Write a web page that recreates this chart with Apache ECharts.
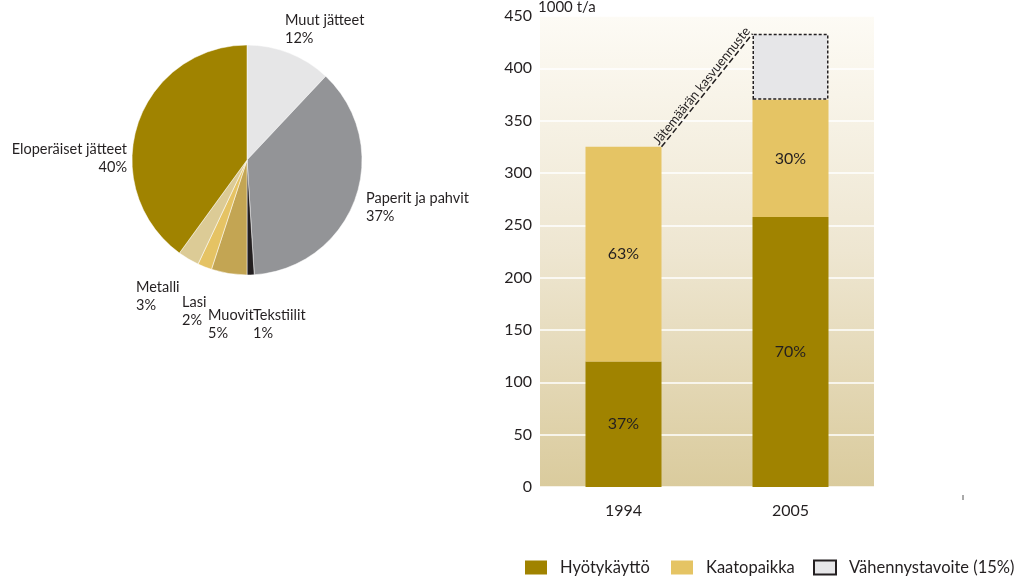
<!DOCTYPE html>
<html>
<head>
<meta charset="utf-8">
<script src="https://cdn.jsdelivr.net/npm/echarts@6/dist/echarts.min.js"></script>
<style>
html,body{margin:0;padding:0;background:#fff;}
#c{width:1031px;height:579px;}
</style>
</head>
<body>
<div id="c"></div>
<script>
// ---- data ----
const pieNames = ['Muut jätteet', 'Paperit ja pahvit', 'Tekstiilit', 'Muovit', 'Lasi', 'Metalli', 'Eloperäiset jätteet'];
const pieValues = [12, 37, 1, 5, 2, 3, 40];
const years = ['1994', '2005'];
const hyotyValues = [120, 258];
const kaatoValues = [205, 112];
const vahennysValues = ['-', 63];
const hyotyLabels = ['37%', '70%'];
const kaatoLabels = ['63%', '30%'];
const seriesNames = ['Hyötykäyttö', 'Kaatopaikka', 'Vähennystavoite (15%)'];
const yAxisTitle = '1000 t/a';
const annotationText = 'Jätemäärän kasvuennuste';

// ---- styles ----
const FONT = 'Lato';
const TXT = '#231f20';
const pieColors = ['#e6e6e7', '#939497', '#231f20', '#c3a553', '#e5c364', '#dccb96', '#a08300'];
const pieLabelPos = [
  [285, 11, 'left'],
  [366, 189, 'left'],
  [253, 306, 'left'],
  [208, 306, 'left'],
  [182, 293, 'left'],
  [136, 278, 'left'],
  [127, 140, 'right']
];
const BAR_W = 76;

const chart = echarts.init(document.getElementById('c'), null, {renderer: 'canvas'});

const option = {
  animation: false,
  textStyle: {fontFamily: FONT},
  grid: {
    left: 540, right: 157, top: 16, bottom: 92,
    show: true, borderWidth: 0,
    backgroundColor: {
      type: 'linear', x: 0, y: 0, x2: 0, y2: 1,
      colorStops: [{offset: 0, color: '#fdfbf5'}, {offset: 0.5, color: '#eee6d1'}, {offset: 1, color: '#dacb9d'}]
    }
  },
  xAxis: {
    type: 'category', data: years,
    axisLine: {show: false}, axisTick: {show: false},
    axisLabel: {fontFamily: FONT, fontSize: 16, color: TXT, margin: 16}
  },
  yAxis: {
    type: 'value', min: 0, max: 450, interval: 50,
    name: yAxisTitle, nameLocation: 'end', nameGap: 1,
    nameTextStyle: {fontFamily: FONT, fontSize: 15, color: TXT, align: 'left', padding: [0, 0, 0, -2]},
    axisLine: {show: false}, axisTick: {show: false},
    axisLabel: {fontFamily: FONT, fontSize: 16, color: TXT, margin: 8},
    splitLine: {lineStyle: {color: '#ffffff', width: 1.5}}
  },
  legend: [0, 1, 2].map((i) => ({
    data: [seriesNames[i]],
    left: [525, 671, 813][i], top: 559, padding: 0,
    itemWidth: 22, itemHeight: 14,
    icon: 'rect',
    textStyle: {fontFamily: FONT, fontSize: 16.5, color: TXT, padding: [0, 0, 0, 8]}
  })),
  series: [
    {
      type: 'pie',
      center: [247, 160], radius: 115,
      startAngle: 90, clockwise: true,
      silent: true,
      data: pieNames.map((n, i) => ({name: n, value: pieValues[i], itemStyle: {color: pieColors[i]}})),
      itemStyle: {borderColor: '#ffffff', borderWidth: 0.5},
      label: {
        show: true, position: 'outside', overflow: 'none',
        formatter: '{b}\n{c}%',
        fontFamily: FONT, fontSize: 14.5, lineHeight: 18, color: TXT
      },
      labelLine: {show: false},
      labelLayout: function (params) {
        const p = pieLabelPos[params.dataIndex];
        return {x: p[0], y: p[1], align: p[2], verticalAlign: 'top'};
      }
    },
    {
      name: seriesNames[0], type: 'bar', stack: 'a', barWidth: BAR_W,
      data: hyotyValues,
      itemStyle: {color: '#a08300'},
      label: {show: true, position: 'inside', fontFamily: FONT, fontSize: 16, color: TXT,
        formatter: (p) => hyotyLabels[p.dataIndex]}
    },
    {
      name: seriesNames[1], type: 'bar', stack: 'a', barWidth: BAR_W,
      data: kaatoValues,
      itemStyle: {color: '#e5c464'},
      label: {show: true, position: 'inside', fontFamily: FONT, fontSize: 16, color: TXT,
        formatter: (p) => kaatoLabels[p.dataIndex]}
    },
    {
      name: seriesNames[2], type: 'bar', stack: 'a', barWidth: BAR_W,
      data: vahennysValues,
      itemStyle: {color: '#e6e6e8', borderColor: TXT, borderWidth: 1.5, borderType: [3, 2]}
    }
  ]
};
chart.setOption(option);

// annotation line from top-right of 1994 total to top-left of 2005 target box
const total1994 = hyotyValues[0] + kaatoValues[0];
const total2005 = hyotyValues[1] + kaatoValues[1] + vahennysValues[1];
const p1 = chart.convertToPixel({xAxisIndex: 0, yAxisIndex: 0}, [years[0], total1994]);
const p2 = chart.convertToPixel({xAxisIndex: 0, yAxisIndex: 0}, [years[1], total2005]);
const x1 = p1[0] + BAR_W / 2, y1 = p1[1];
const x2 = p2[0] - BAR_W / 2, y2 = p2[1];
const ang = Math.atan2(y1 - y2, x2 - x1);
const mx = (x1 + x2) / 2, my = (y1 + y2) / 2;
const off = 7;
chart.setOption({
  graphic: [
    {type: 'line', shape: {x1: x1, y1: y1, x2: x2, y2: y2},
      style: {stroke: TXT, lineWidth: 1.5, lineDash: [6, 3]}, z: 10},
    {type: 'text', x: mx - Math.sin(ang) * off, y: my - Math.cos(ang) * off, rotation: ang,
      style: {text: annotationText, fontFamily: FONT, fontSize: 13, fill: TXT, align: 'center', verticalAlign: 'middle'}, z: 10},
    {type: 'line', shape: {x1: 963, y1: 495, x2: 963, y2: 500}, style: {stroke: '#555', lineWidth: 1}}
  ]
});
</script>
</body>
</html>
